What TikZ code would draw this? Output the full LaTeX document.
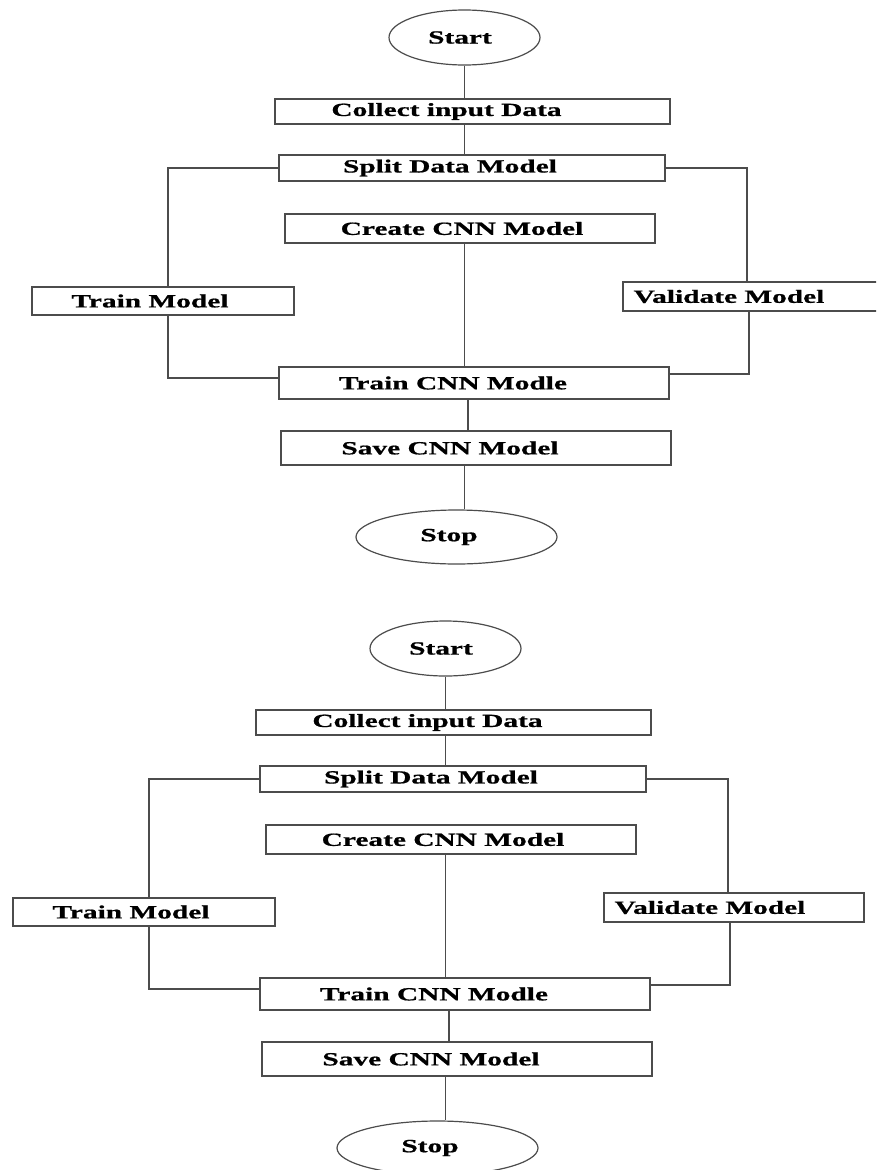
\documentclass[tikz,border=0pt]{standalone}
\usepackage{fontspec}
\setmainfont{Liberation Serif}[FakeStretch=1.58, BoldFeatures={FakeBold=0.8}]
\usetikzlibrary{shapes.geometric}
\tikzset{
  flowline/.style={draw=black!70, line width=1.2pt},
  process/.style={rectangle, draw=black!70, line width=1.2pt, fill=white, inner sep=0pt,
    minimum width=390pt, minimum height=29pt, font=\fontsize{18.6}{22}\selectfont\bfseries},
  terminal/.style={ellipse, draw=black!70, line width=1.2pt, fill=white, inner sep=0pt,
    minimum width=151pt, minimum height=55pt, font=\fontsize{18.6}{22}\selectfont\bfseries},
  textleft/.style={execute at end node={\hspace*{#1}}}
}

\begin{document}
\begin{tikzpicture}[x=1pt,y=-1pt]
  \useasboundingbox (0,0) rectangle (876,1170);
  \clip (0,0) rectangle (876,1170);
  % the same chart twice, the second one lower and a bit to the left
  \foreach \dx/\dy/\s in {0/0/A, -19/611/B}{
    \begin{scope}[shift={(\dx,\dy)}]
      \node (start\s)   [terminal, textleft=9pt]                                        at (464.5,37.5) {Start};
      \node (collect\s) [process, minimum width=395pt, minimum height=25pt, textleft=52pt] at (472.5,111.5) {Collect input Data};
      \node (split\s)   [process, minimum width=386pt, minimum height=26pt, textleft=44pt] at (472,168)     {Split Data Model};
      \node (create\s)  [process, minimum width=370pt, textleft=16pt]                    at (470,228.5)   {Create CNN Model};
      \node (train\s)   [process, minimum width=262pt, minimum height=28pt, textleft=26pt] at (163,301)     {Train Model};
      \node (valid\s)   [process, minimum width=260pt, textleft=48pt]                    at (753,296.5)   {Validate Model};
      \node (cnn\s)     [process, minimum height=32pt, textleft=42pt]                    at (474,383)     {Train CNN Modle};
      \node (save\s)    [process, minimum height=34pt, textleft=52pt]                    at (476,448)     {Save CNN Model};
      \node (stop\s)    [terminal, minimum width=201pt, minimum height=54pt, textleft=15pt] at (456.5,537) {Stop};

      \draw [flowline] (start\s.south) -- (start\s.south |- collect\s.north);
      \draw [flowline] (collect\s.south -| start\s.south) -- (split\s.north -| start\s.south);
      \draw [flowline] (split\s.west) -| ([xshift=5pt]train\s.north);
      \draw [flowline] ([xshift=5pt]train\s.south) |- ([yshift=5pt]cnn\s.west);
      \draw [flowline] (split\s.east) -| ([xshift=-6pt]valid\s.north);
      \draw [flowline] ([xshift=-4pt]valid\s.south) |- ([yshift=9pt]cnn\s.east);
      \draw [flowline] (create\s.south -| start\s.south) -- (cnn\s.north -| start\s.south);
      \draw [flowline] ([xshift=-6pt]cnn\s.south) -- ([xshift=-6pt]cnn\s.south |- save\s.north);
      \draw [flowline] (save\s.south -| start\s.south) -- (stop\s.north -| start\s.south);
    \end{scope}
  }
\end{tikzpicture}
\end{document}
